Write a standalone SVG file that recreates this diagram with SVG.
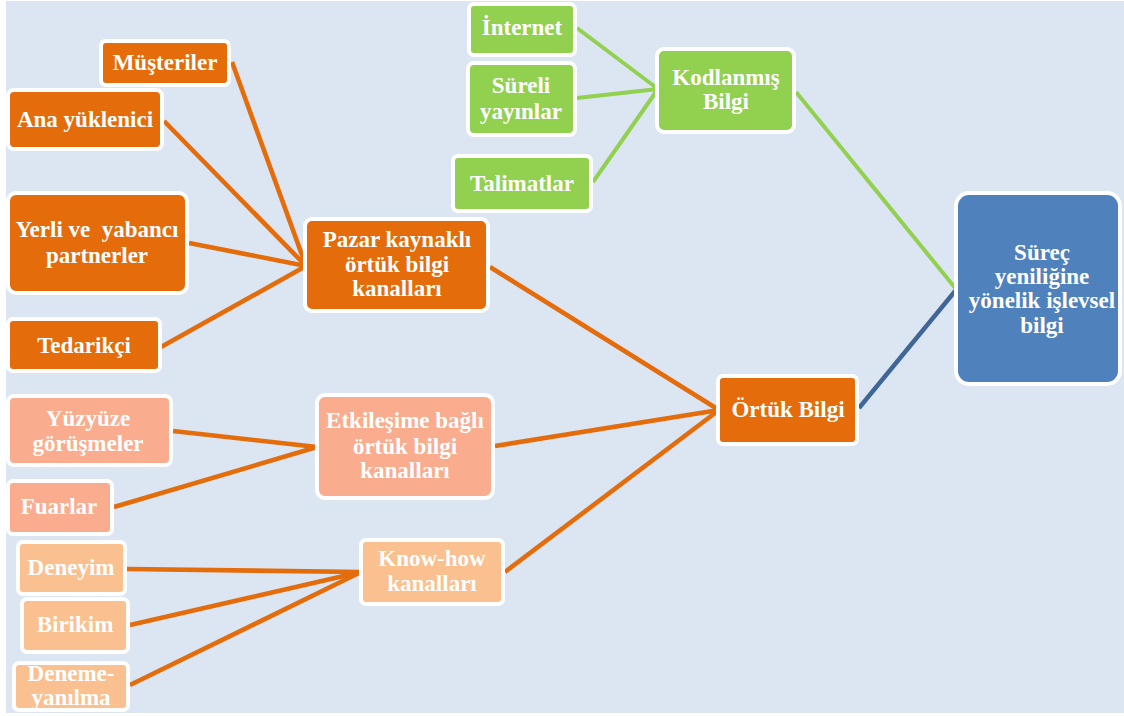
<svg xmlns="http://www.w3.org/2000/svg" width="1124" height="716" viewBox="0 0 1124 716">
  <defs>
    <style>
      .box { stroke: #ffffff; stroke-width: 4; }
      .dark { fill: #E46C0A; }
      .salmon { fill: #FAAC8F; }
      .peach { fill: #FAC08F; }
      .green { fill: #92D050; }
      .blue { fill: #4F81BD; }
      .lbl { font-family: "Liberation Serif", "Times New Roman", serif; font-weight: bold; font-size: 23px; fill: #ffffff; text-anchor: middle; }
      .c-or { stroke: #E46C0A; stroke-width: 4.6; fill: none; }
      .c-gr { stroke: #92D050; stroke-width: 4; fill: none; }
      .c-bl { stroke: #3F6697; stroke-width: 4.4; fill: none; }
    </style>
    <clipPath id="area">
      <rect x="6" y="1" width="1118" height="712"/>
    </clipPath>
  </defs>

  <rect x="0" y="0" width="1124" height="716" fill="#ffffff"/>
  <rect x="6" y="1" width="1118" height="712" fill="#DCE6F2"/>

  <g clip-path="url(#area)">
    <!-- connectors -->
    <g id="connectors">
      <line class="c-or" x1="232" y1="62" x2="306" y2="266"/>
      <line class="c-or" x1="164" y1="121" x2="306" y2="266"/>
      <line class="c-or" x1="189" y1="243" x2="306" y2="266"/>
      <line class="c-or" x1="161" y1="347" x2="306" y2="266"/>
      <line class="c-or" x1="490" y1="267" x2="719" y2="410"/>
      <line class="c-or" x1="495" y1="446" x2="719" y2="410"/>
      <line class="c-or" x1="505" y1="572" x2="719" y2="410"/>
      <line class="c-or" x1="173" y1="431" x2="317" y2="447"/>
      <line class="c-or" x1="114" y1="507" x2="317" y2="447"/>
      <line class="c-or" x1="127" y1="569" x2="361" y2="572"/>
      <line class="c-or" x1="130" y1="625" x2="361" y2="572"/>
      <line class="c-or" x1="130" y1="685" x2="361" y2="572"/>
      <line class="c-gr" x1="577" y1="28" x2="658" y2="89"/>
      <line class="c-gr" x1="577" y1="98" x2="658" y2="89"/>
      <line class="c-gr" x1="593" y1="182" x2="658" y2="89"/>
      <line class="c-gr" x1="796" y1="92" x2="956" y2="289"/>
      <line class="c-bl" x1="859" y1="408" x2="956" y2="290"/>
    </g>

    <!-- market-based tacit channels -->
    <g id="musteriler">
      <rect class="box dark" x="101" y="41" width="128" height="44" rx="5"/>
      <text class="lbl" x="165" y="70">Müşteriler</text>
    </g>
    <g id="ana-yuklenici">
      <rect class="box dark" x="8" y="90" width="154" height="59" rx="6"/>
      <text class="lbl" x="85" y="127">Ana yüklenici</text>
    </g>
    <g id="yerli-yabanci">
      <rect class="box dark" x="8" y="193" width="179" height="100" rx="8"/>
      <text class="lbl" x="97" y="237" xml:space="preserve">Yerli ve  yabancı</text>
      <text class="lbl" x="97" y="263">partnerler</text>
    </g>
    <g id="tedarikci">
      <rect class="box dark" x="8" y="319" width="152" height="52" rx="5"/>
      <text class="lbl" x="84" y="353">Tedarikçi</text>
    </g>
    <g id="pazar">
      <rect class="box dark" x="305" y="219" width="183" height="92" rx="7"/>
      <text class="lbl" x="397" y="247">Pazar kaynaklı</text>
      <text class="lbl" x="397" y="272">örtük bilgi</text>
      <text class="lbl" x="397" y="296">kanalları</text>
    </g>

    <!-- codified knowledge -->
    <g id="internet">
      <rect class="box green" x="469" y="4" width="106" height="51" rx="5"/>
      <text class="lbl" x="522" y="35">İnternet</text>
    </g>
    <g id="sureli-yayinlar">
      <rect class="box green" x="468" y="63" width="107" height="72" rx="6"/>
      <text class="lbl" x="521" y="93">Süreli</text>
      <text class="lbl" x="521" y="119">yayınlar</text>
    </g>
    <g id="talimatlar">
      <rect class="box green" x="453" y="156" width="138" height="55" rx="5"/>
      <text class="lbl" x="522" y="191">Talimatlar</text>
    </g>
    <g id="kodlanmis">
      <rect class="box green" x="657" y="49" width="137" height="83" rx="7"/>
      <text class="lbl" x="726" y="85">Kodlanmış</text>
      <text class="lbl" x="726" y="109">Bilgi</text>
    </g>

    <!-- result -->
    <g id="surec">
      <rect class="box blue" x="956" y="193" width="164" height="191" rx="13"/>
      <text class="lbl" x="1042" y="260">Süreç</text>
      <text class="lbl" x="1042" y="284">yeniliğine</text>
      <text class="lbl" x="1042" y="308">yönelik işlevsel</text>
      <text class="lbl" x="1042" y="333">bilgi</text>
    </g>
    <g id="ortuk">
      <rect class="box dark" x="718" y="376" width="139" height="68" rx="5"/>
      <text class="lbl" x="788" y="417">Örtük Bilgi</text>
    </g>

    <!-- interaction-based tacit channels -->
    <g id="etkilesim">
      <rect class="box salmon" x="317" y="395" width="176" height="103" rx="8"/>
      <text class="lbl" x="405" y="428">Etkileşime bağlı</text>
      <text class="lbl" x="405" y="454">örtük bilgi</text>
      <text class="lbl" x="405" y="478">kanalları</text>
    </g>
    <g id="yuzyuze">
      <rect class="box salmon" x="8" y="396" width="163" height="69" rx="6"/>
      <text class="lbl" x="88" y="426">Yüzyüze</text>
      <text class="lbl" x="88" y="451">görüşmeler</text>
    </g>
    <g id="fuarlar">
      <rect class="box salmon" x="8" y="481" width="104" height="53" rx="5"/>
      <text class="lbl" x="59" y="514">Fuarlar</text>
    </g>

    <!-- know-how channels -->
    <g id="know-how">
      <rect class="box peach" x="361" y="540" width="142" height="64" rx="5"/>
      <text class="lbl" x="432" y="566">Know-how</text>
      <text class="lbl" x="432" y="591">kanalları</text>
    </g>
    <g id="deneyim">
      <rect class="box peach" x="18" y="542" width="107" height="52" rx="5"/>
      <text class="lbl" x="71" y="575">Deneyim</text>
    </g>
    <g id="birikim">
      <rect class="box peach" x="22" y="599" width="106" height="53" rx="5"/>
      <text class="lbl" x="75" y="632">Birikim</text>
    </g>
    <g id="deneme-yanilma">
      <rect class="box peach" x="14" y="663" width="114" height="47" rx="5"/>
      <text class="lbl" x="71" y="681">Deneme-</text>
      <text class="lbl" x="71" y="705">yanılma</text>
    </g>
  </g>
</svg>
